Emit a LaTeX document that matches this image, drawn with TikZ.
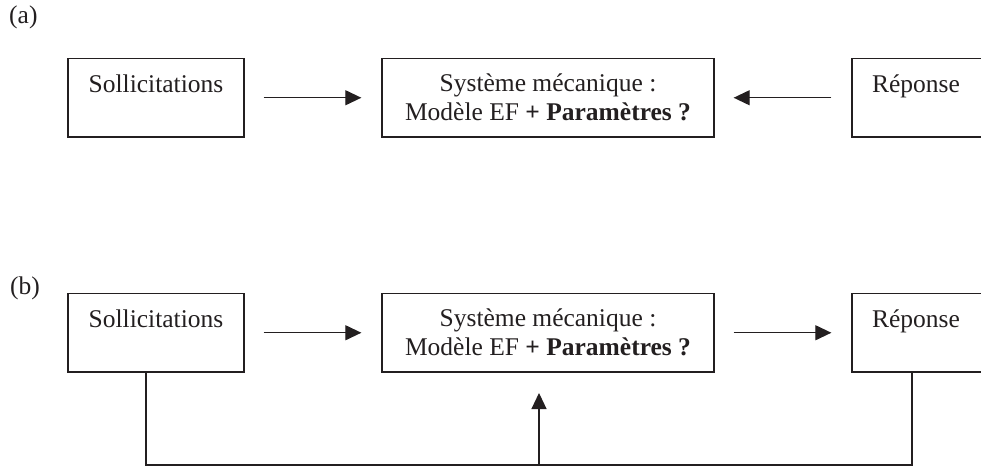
\documentclass[tikz,border=0pt]{standalone}
\usepackage{fontspec}
\setmainfont{Liberation Serif}
\usetikzlibrary{arrows.meta}
\definecolor{ink}{RGB}{35,31,32}
\begin{document}
\begin{tikzpicture}[x=1pt,y=-1pt,
  box/.style={draw=ink, line width=1.3pt, rectangle, minimum height=78.5pt, inner sep=0pt,
              align=center, font=\fontsize{25.5}{29}\selectfont, text=ink},
  repbox/.style={box, text width=160pt, inner xsep=20pt, align=left},
  arr/.style={draw=ink, line width=1.2pt, -{Triangle[length=16pt,width=15pt]}},
  lnk/.style={draw=ink, line width=1.2pt},
  lbl/.style={font=\fontsize{25.5}{29}\selectfont, text=ink, inner sep=0pt, anchor=base west}]
\useasboundingbox (0,0) rectangle (981,468);
\clip (0,0) rectangle (981,468);
\fill[white] (0,0) rectangle (981,468);

% panel (a)
\node[lbl] (la) at (9,24) {(a)};
\node[box, minimum width=176pt] (sola) at (156,97.75) {Sollicitations\\\mbox{}};
\node[box, minimum width=332pt] (mida) at (548,97.75) {Système mécanique :\\Modèle EF \textbf{+ Paramètres ?}};
\node[repbox] (repa) at (952,97.75) {Réponse\\\mbox{}};
\draw[arr, shorten <=19pt, shorten >=20pt] (sola) -- (mida);
\draw[arr, shorten <=20pt, shorten >=19pt] (repa) -- (mida);

% panel (b)
\node[lbl] (lb) at (10,294) {(b)};
\node[box, minimum width=176pt] (solb) at (156,332.75) {Sollicitations\\\mbox{}};
\node[box, minimum width=332pt] (midb) at (548,332.75) {Système mécanique :\\Modèle EF \textbf{+ Paramètres ?}};
\node[repbox] (repb) at (952,332.75) {Réponse\\\mbox{}};
\draw[arr, shorten <=19pt, shorten >=20pt] (solb) -- (midb);
\draw[arr, shorten <=19pt, shorten >=20pt] (midb) -- (repb);

% feedback loop
\coordinate (fl) at (146,465);
\coordinate (fr) at (912,465);
\coordinate (fm) at (539,465);
\coordinate (ft) at (539,393);
\draw[lnk] (solb.south -| fl) -- (fl) -- (fr) -- (repb.south -| fr);
\draw[arr] (fm) -- (ft);
\end{tikzpicture}
\end{document}
